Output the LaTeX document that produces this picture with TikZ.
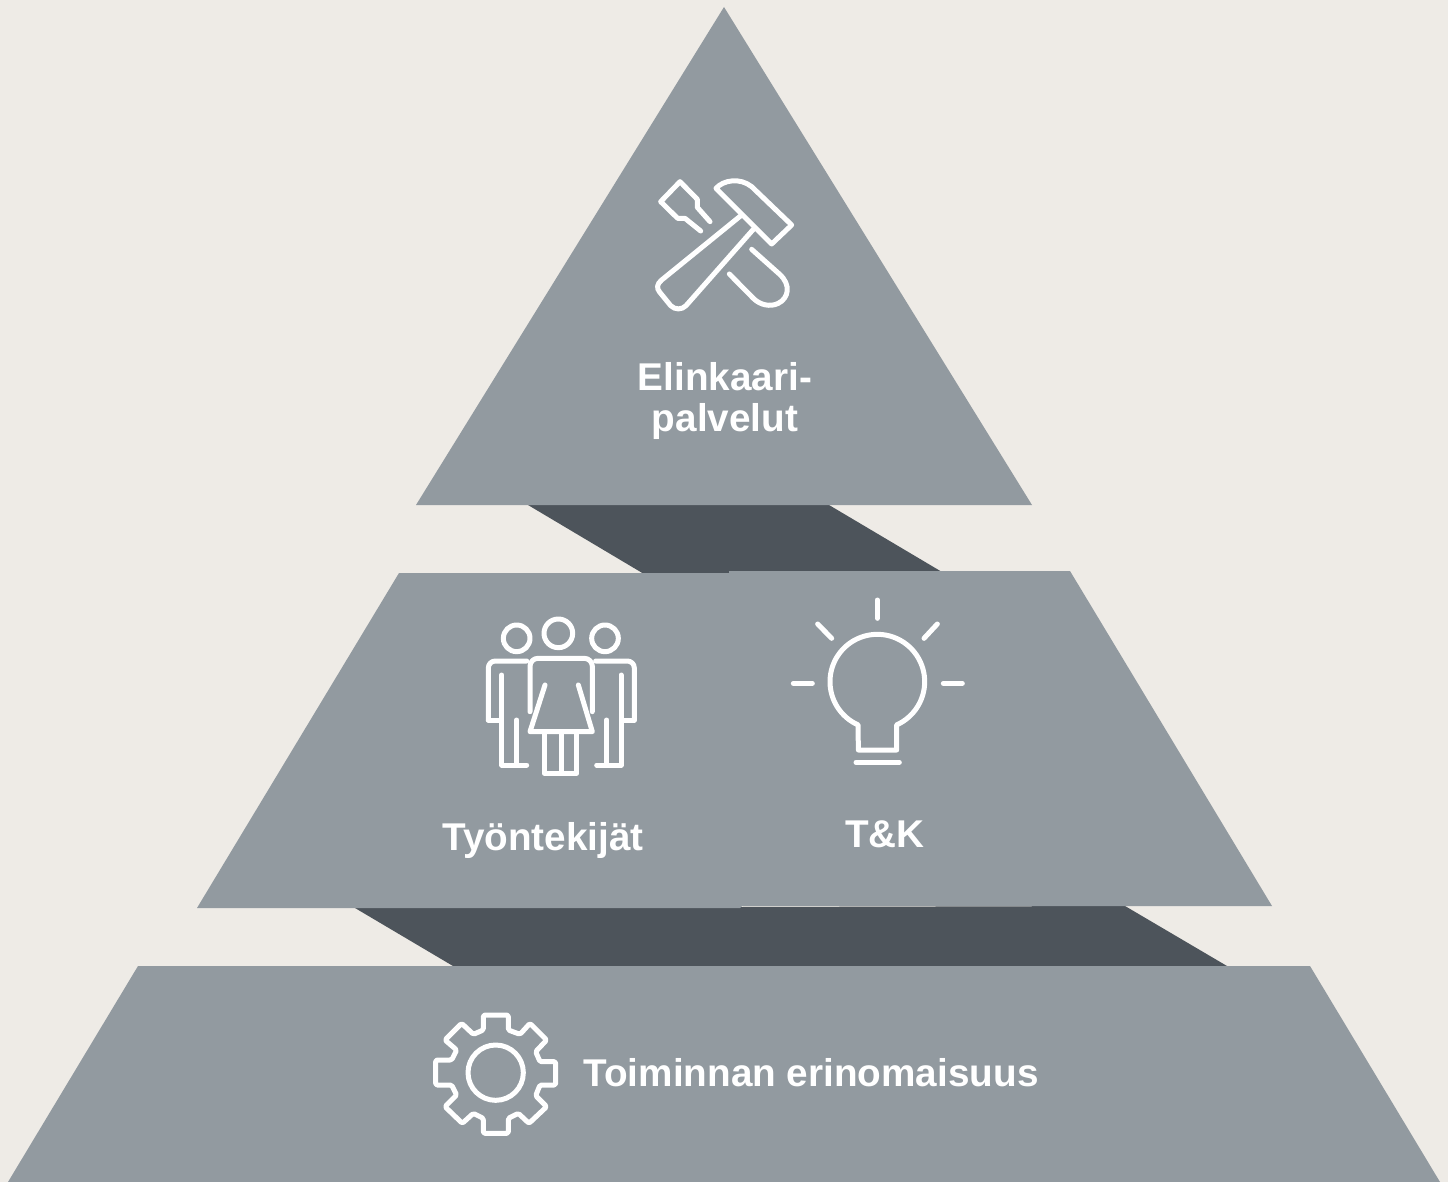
\documentclass[tikz,border=0pt]{standalone}
\usepackage{fontspec}
\setmainfont{Liberation Sans}
\definecolor{bgc}{HTML}{EEEBE6}
\definecolor{greyc}{HTML}{929AA0}
\definecolor{darkc}{HTML}{4D545B}
\tikzset{
  slab/.style={fill=greyc,draw=none},
  shade slab/.style={fill=darkc,draw=none},
  icon/.style={draw=white,line width=5pt,line cap=round,line join=round},
  lab/.style={text=white,font=\fontsize{38.7}{41}\selectfont\bfseries,align=center,inner sep=0pt,anchor=center},
  zoomed/.style={shift={(#1)},scale=1/3}
}
\begin{document}
\begin{tikzpicture}[x=1pt,y=-1pt]
\useasboundingbox (0,0) rectangle (1448,1182);
\fill[bgc] (0,0) rectangle (1448,1182);
% dark connecting bands
\path[shade slab] (528,505) -- (829,505) -- (942,572) -- (644,574) -- cycle;
\path[shade slab] (355,908) -- (1125,906) -- (1227,966) -- (453,966) -- cycle;
% slabs
\path[slab] (724,7) -- (1032,505) -- (416,505) -- cycle;
\path[slab] (399,573) -- (733,573) -- (744,904) -- (740,908) -- (197,908) -- cycle;
\path[slab] (729,571) -- (1070,571) -- (1272,906) -- (740,906) -- cycle;
\path[slab] (138,966) -- (1310,966) -- (1440,1182) -- (8,1182) -- cycle;
% hammer and chisel
\begin{scope}[zoomed={640,170}]
\draw[icon] (228,55) .. controls (250,30) and (300,22) .. (335,50) -- (455,165) -- (395,222) -- cycle;
\draw[icon] (305,135) -- (65,330) .. controls (50,342) and (50,355) .. (58,365) -- (92,407) .. controls (105,420) and (125,420) .. (138,407) -- (340,178);
\draw[icon] (210,155) -- (172,112) -- (172,88) -- (120,35) -- (62,95) -- (113,145) -- (135,145) -- (182,183);
\draw[icon] (335,238) -- (418,312) .. controls (455,345) and (445,385) .. (415,400) .. controls (390,412) and (360,405) .. (340,385) -- (268,312);
\end{scope}
% people
\begin{scope}[zoomed={475,605}]
\draw[icon] (125,100) circle [radius=40];
\draw[icon] (250,85) circle [radius=43];
\draw[icon] (390,100) circle [radius=40];
\draw[icon,rounded corners=7pt] (155,168) -- (40,168) -- (40,345);
\draw[icon] (40,345) -- (72,345);
\draw[icon] (80,210) -- (80,480) -- (155,480);
\draw[icon] (125,345) -- (125,480);
\draw[icon,rounded corners=7pt] (362,168) -- (478,168) -- (478,345);
\draw[icon] (478,345) -- (442,345);
\draw[icon] (438,210) -- (438,480) -- (365,480);
\draw[icon] (395,345) -- (395,480);
\draw[icon,rounded corners=8pt] (165,320) -- (165,160) -- (352,160) -- (352,320);
\draw[icon] (210,240) -- (165,380) -- (352,380) -- (310,240);
\draw[icon] (208,385) -- (208,505) -- (305,505) -- (305,385);
\draw[icon] (258,385) -- (258,505);
\end{scope}
% light bulb
\begin{scope}[zoomed={780,590}]
\draw[icon] plot [domain=114:426,samples=120] ({292+142*cos(\x)},{275+142*sin(\x)}) -- (350,480) -- (235,480) -- cycle;
\draw[icon] (228,517) -- (358,517);
\draw[icon] (292,30) -- (292,85);
\draw[icon] (113,102) -- (155,145);
\draw[icon] (472,102) -- (432,145);
\draw[icon] (40,280) -- (97,280);
\draw[icon] (490,280) -- (547,280);
\end{scope}
% gear
\begin{scope}[zoomed={425,1005}]
\draw[icon] (212,203) circle [radius=83];
\draw[icon,rounded corners=1.5pt] (175,30) -- (250,30) -- (250,75) -- (285,88) -- (315,55) -- (365,105) -- (332,140) -- (345,170) -- (392,170) -- (392,240) -- (345,240) -- (332,272) -- (365,305) -- (312,355) -- (280,325) -- (250,340) -- (250,385) -- (175,385) -- (175,340) -- (145,325) -- (112,355) -- (60,305) -- (95,270) -- (80,240) -- (32,240) -- (32,165) -- (80,165) -- (95,135) -- (60,105) -- (110,55) -- (145,88) -- (175,75) -- cycle;
\end{scope}
% labels
\node[lab] (elinkaari) at (725,401) {Elinkaari-\\palvelut};
\node[lab] (tyontekijat) at (543,840) {Työntekijät};
\node[lab] (tk) at (885,834) {T\&K};
\node[lab] (toiminnan) at (811,1073) {Toiminnan erinomaisuus};
\end{tikzpicture}
\end{document}
